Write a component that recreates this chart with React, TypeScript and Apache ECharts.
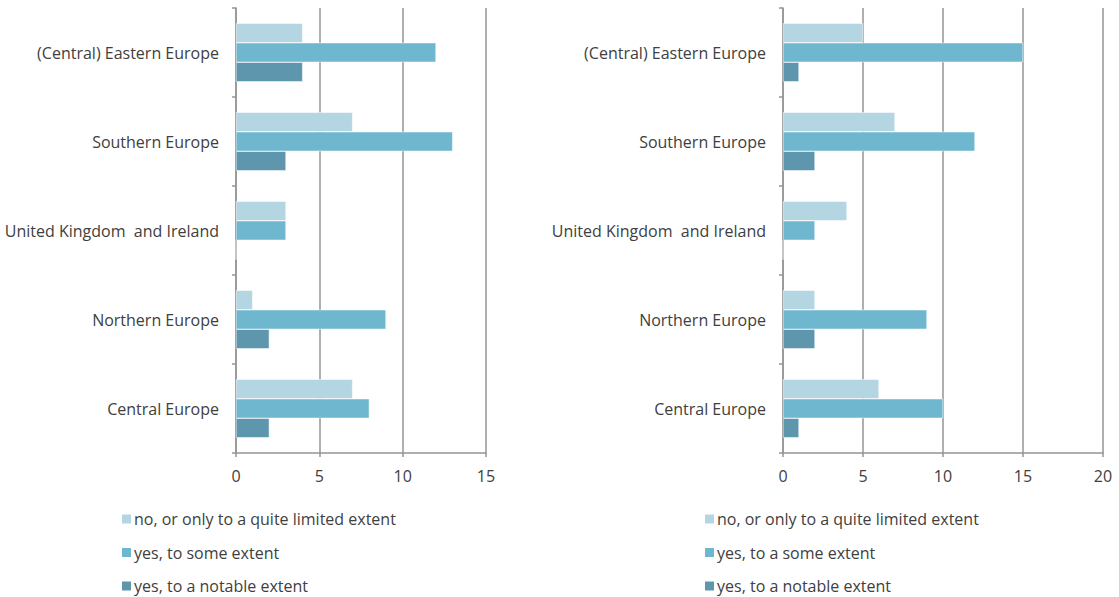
import React, { useEffect, useRef } from "react";
import * as echarts from "echarts";

const categories = [
  "(Central) Eastern Europe",
  "Southern Europe",
  "United Kingdom  and Ireland",
  "Northern Europe",
  "Central Europe",
];

const leftNames = [
  "no, or only to a quite limited extent",
  "yes, to some extent",
  "yes, to a notable extent",
];
const rightNames = [
  "no, or only to a quite limited extent",
  "yes, to a some extent",
  "yes, to a notable extent",
];

const leftLimited = [4, 7, 3, 1, 7];
const leftSome = [12, 13, 3, 9, 8];
const leftNotable = [4, 3, 0, 2, 2];

const rightLimited = [5, 7, 4, 2, 6];
const rightSome = [15, 12, 2, 9, 10];
const rightNotable = [1, 2, 0, 2, 1];

const colors = ["#b4d6e2", "#6fb6cf", "#5e97ad"];

export default function App() {
  const ref = useRef<HTMLDivElement>(null);
  useEffect(() => {
    if (!ref.current) return;
    const chart = echarts.init(ref.current, null, { renderer: "svg" });
    const font = "'Open Sans', 'Noto Sans', sans-serif";
    const gridColor = "#959595";
    const mkX = (idx: number, max: number) => ({
      type: "value",
      gridIndex: idx,
      min: 0,
      max,
      interval: 5,
      axisLine: { show: true, lineStyle: { color: gridColor, width: 1.5 } },
      axisTick: { show: true, length: 4, lineStyle: { color: gridColor, width: 1.5 } },
      splitLine: { show: true, lineStyle: { color: gridColor, width: 1.5 } },
      axisLabel: { color: "#404040", fontSize: 16, fontFamily: font, margin: 15 },
    });
    const mkY = (idx: number) => ({
      type: "category",
      gridIndex: idx,
      data: categories,
      inverse: true,
      axisLine: { show: true, lineStyle: { color: gridColor, width: 1.5 } },
      axisTick: { show: true, length: 4, interval: 0, lineStyle: { color: gridColor, width: 1.5 } },
      axisLabel: { color: "#404040", fontSize: 16, fontFamily: font, margin: 17 },
    });
    const mkSeries = (idx: number, names: string[], data: number[][]) =>
      data.map((d, i) => ({
        type: "bar",
        name: names[i],
        xAxisIndex: idx,
        yAxisIndex: idx,
        data: d,
        barWidth: 19.5,
        barGap: "0%",
        itemStyle: { color: colors[i], borderColor: "#ffffff", borderWidth: 0.5 },
      }));
    const mkLegend = (left: number, names: string[]) => ({
      orient: "vertical",
      left,
      top: 509,
      height: 200,
      padding: 0,
      itemWidth: 11,
      itemHeight: 11,
      itemGap: 13.5,
      icon: "rect",
      selectedMode: false,
      data: names,
      textStyle: {
        color: "#404040",
        fontSize: 16,
        lineHeight: 20,
        fontFamily: font,
        padding: [0, 0, 0, -3],
      },
    });
    chart.setOption({
      animation: false,
      color: colors,
      grid: [
        { left: 236, top: 8, width: 250, height: 445 },
        { left: 783, top: 8, width: 320, height: 445 },
      ],
      xAxis: [mkX(0, 15), mkX(1, 20)],
      yAxis: [mkY(0), mkY(1)],
      legend: [mkLegend(120, leftNames), mkLegend(703, rightNames)],
      series: [
        ...mkSeries(0, leftNames, [leftLimited, leftSome, leftNotable]),
        ...mkSeries(1, rightNames, [rightLimited, rightSome, rightNotable]),
      ],
    });
    return () => chart.dispose();
  }, []);
  return (
    <div
      ref={ref}
      style={{ position: "fixed", left: 0, top: 0, width: 1119, height: 597, background: "#fff" }}
    />
  );
}
